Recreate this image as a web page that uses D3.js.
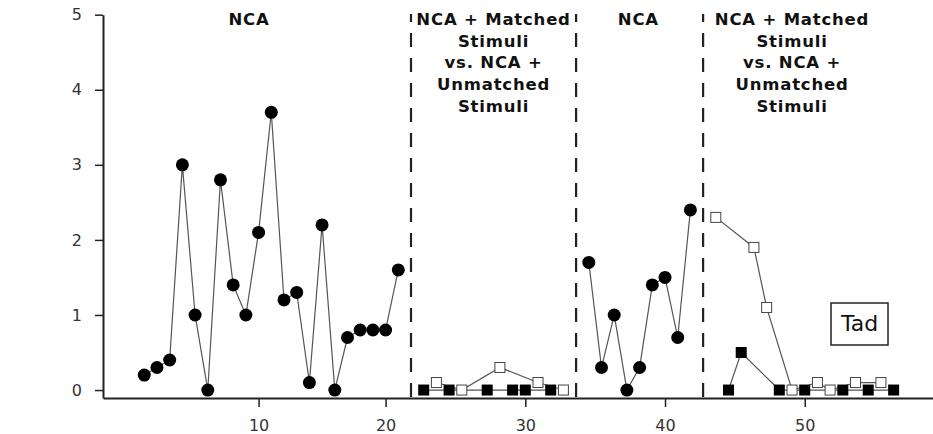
<!DOCTYPE html>
<html lang="en">
<head>
  <meta charset="utf-8" />
  <title>NCA phases - Tad</title>
  <style type="text/css">
    body { margin: 0; background: #fff; }
    #graphic text { font-family: "DejaVu Sans", sans-serif; }
    .axis path, .axis line { stroke: #222; }
    .axis text { font-size: 16px; fill: #333; }
    .phase-label { font-size: 16.5px; font-weight: 700; fill: #111; letter-spacing: 0.8px; }
  </style>
</head>
<body>
  <div id="graphic"></div>

  <script src="https://cdn.jsdelivr.net/npm/d3@7/dist/d3.min.js" type="text/javascript"></script>
  <script>
    // sessions and rates
    var nca1Sessions = [1,2,3,4,5,6,7,8,9,10,11,12,13,14,15,16,17,18,19,20,21];
    var nca1Values = [0.2,0.3,0.4,3.0,1.0,0,2.8,1.4,1.0,2.1,3.7,1.2,1.3,0.1,2.2,0,0.7,0.8,0.8,0.8,1.6];

    var matched1Sessions = [22,24,27,29,30,32];
    var matched1Values = [0,0,0,0,0,0];
    var unmatched1Sessions = [23,25,28,31,33];
    var unmatched1Values = [0.1,0,0.3,0.1,0];

    var nca2Sessions = [34,35,36,37,38,39,40,41,42];
    var nca2Values = [1.7,0.3,1.0,0,0.3,1.4,1.5,0.7,2.4];

    var matched2Sessions = [44,45,48,50,53,55,57];
    var matched2Values = [0,0.5,0,0,0,0,0];
    var unmatched2Sessions = [43,46,47,49,51,52,54,56];
    var unmatched2Values = [2.3,1.9,1.1,0,0.1,0,0.1,0.1];

    // last session of each phase (a dashed line follows)
    var phaseEnds = [21, 33, 42];
    var phaseLabels = [
      ["NCA"],
      ["NCA + Matched", "Stimuli", "vs. NCA +", "Unmatched", "Stimuli"],
      ["NCA"],
      ["NCA + Matched", "Stimuli", "vs. NCA +", "Unmatched", "Stimuli"]
    ];
    var phaseLabelSlots = [9.25, 28.5, 39.9, 52];

    var xTicks = [10, 20, 30, 40, 50];
    var yTicks = [0, 1, 2, 3, 4, 5];
    var participant = "Tad";

    var graphic = d3.select('#graphic');

    // every phase change line takes one slot on the x axis
    function slot(session) {
      var n = 0;
      phaseEnds.forEach(function(e){ if (session > e) n++; });
      return session + n;
    }

    function pairs(sessions, values) {
      return sessions.map(function(s, i){ return {x: slot(s), y: values[i]}; });
    }

    function drawGraphic() {
      graphic.selectAll("*").remove();

      var svg = graphic.append('svg')
        .attr('width', 933)
        .attr('height', 434);

      var x = d3.scaleLinear()
        .domain([-2.25, 63.1])
        .range([103, 933]);

      var y = d3.scaleLinear()
        .domain([-0.106, 5])
        .range([398, 14.7]);

      var line = d3.line()
        .x(function(d){ return x(d.x); })
        .y(function(d){ return y(d.y); });

      // axes
      svg.append('g')
        .attr('class', 'axis')
        .attr('transform', 'translate(0,398)')
        .call(d3.axisBottom(x)
          .tickValues(xTicks.map(slot))
          .tickFormat(function(d, i){ return xTicks[i]; })
          .tickSize(9)
          .tickSizeOuter(0)
          .tickPadding(13))
        .call(function(g){
          g.select('.domain').attr('stroke-width', 2);
          g.selectAll('.tick line').attr('stroke-width', 1.5);
        });

      svg.append('g')
        .attr('class', 'axis')
        .attr('transform', 'translate(103,0)')
        .call(d3.axisLeft(y)
          .tickValues(yTicks)
          .tickFormat(d3.format('d'))
          .tickSize(8)
          .tickSizeOuter(0)
          .tickPadding(13))
        .call(function(g){
          g.select('.domain').attr('stroke-width', 2);
          g.selectAll('.tick line').attr('stroke-width', 1.5);
        });

      // phase change lines
      svg.selectAll('.phase-line')
        .data(phaseEnds)
        .enter()
        .append('line')
          .attr('class', 'phase-line')
          .attr('x1', function(d, i){ return x(d + 1 + i); })
          .attr('x2', function(d, i){ return x(d + 1 + i); })
          .attr('y1', 14)
          .attr('y2', 398)
          .attr('stroke', '#222')
          .attr('stroke-width', 2.2)
          .attr('stroke-dasharray', '14,11')
          .attr('stroke-dashoffset', 6);

      // phase labels
      svg.selectAll('.phase-label')
        .data(phaseLabels)
        .enter()
        .append('text')
          .attr('class', 'phase-label')
          .attr('text-anchor', 'middle')
          .attr('x', function(d, i){ return x(phaseLabelSlots[i]); })
          .attr('y', 25)
        .selectAll('tspan')
          .data(function(d, i){ return d.map(function(t){ return {t: t, i: i}; }); })
          .enter()
          .append('tspan')
            .attr('x', function(d){ return x(phaseLabelSlots[d.i]); })
            .attr('dy', function(d, j){ return j == 0 ? 0 : 21.7; })
            .text(function(d){ return d.t; });

      // series: circles for NCA, filled and open squares for the two conditions
      var circleSets = [pairs(nca1Sessions, nca1Values), pairs(nca2Sessions, nca2Values)];
      var filledSets = [pairs(matched1Sessions, matched1Values), pairs(matched2Sessions, matched2Values)];
      var openSets = [pairs(unmatched1Sessions, unmatched1Values), pairs(unmatched2Sessions, unmatched2Values)];

      circleSets.concat(filledSets, openSets).forEach(function(set){
        svg.append('path')
          .datum(set)
          .attr('d', line)
          .attr('fill', 'none')
          .attr('stroke', '#555')
          .attr('stroke-width', 1.2);
      });

      filledSets.forEach(function(set){
        svg.append('g').selectAll('rect')
          .data(set)
          .enter()
          .append('rect')
            .attr('x', function(d){ return x(d.x) - 5.5; })
            .attr('y', function(d){ return y(d.y) - 5.5; })
            .attr('width', 11)
            .attr('height', 11)
            .attr('fill', '#000');
      });

      openSets.forEach(function(set){
        svg.append('g').selectAll('rect')
          .data(set)
          .enter()
          .append('rect')
            .attr('x', function(d){ return x(d.x) - 5; })
            .attr('y', function(d){ return y(d.y) - 5; })
            .attr('width', 10)
            .attr('height', 10)
            .attr('fill', '#fff')
            .attr('stroke', '#444')
            .attr('stroke-width', 1);
      });

      circleSets.forEach(function(set){
        svg.append('g').selectAll('circle')
          .data(set)
          .enter()
          .append('circle')
            .attr('cx', function(d){ return x(d.x); })
            .attr('cy', function(d){ return y(d.y); })
            .attr('r', 6.5)
            .attr('fill', '#000');
      });

      // participant box
      svg.append('rect')
        .attr('x', 831)
        .attr('y', 303)
        .attr('width', 57)
        .attr('height', 42)
        .attr('fill', '#fff')
        .attr('stroke', '#222')
        .attr('stroke-width', 1.5);

      svg.append('text')
        .attr('x', 859.5)
        .attr('y', 330.5)
        .attr('text-anchor', 'middle')
        .style('font-size', '22px')
        .attr('fill', '#111')
        .text(participant);
    }

    drawGraphic();
  </script>
</body>
</html>
